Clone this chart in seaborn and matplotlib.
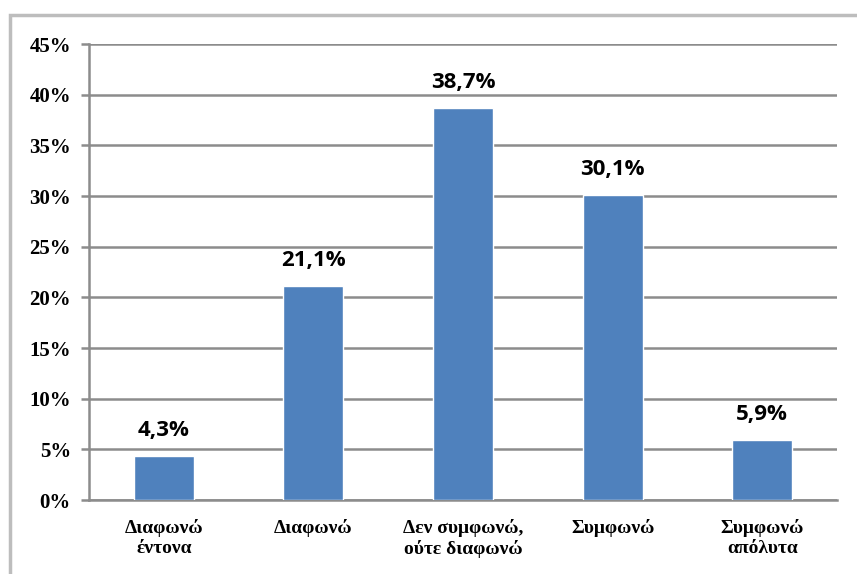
import numpy as np
import pandas as pd
import seaborn as sns
import matplotlib.pyplot as plt
from matplotlib.patches import Rectangle
from matplotlib.ticker import FuncFormatter

categories = ["Διαφωνώ\nέντονα", "Διαφωνώ", "Δεν συμφωνώ,\nούτε διαφωνώ", "Συμφωνώ", "Συμφωνώ\nαπόλυτα"]
values = [4.3, 21.1, 38.7, 30.1, 5.9]
yticks = [0, 5, 10, 15, 20, 25, 30, 35, 40, 45]

df = pd.DataFrame({"cat": categories, "val": values})

sns.set_theme(style="white")
plt.rcParams['font.family'] = ['Liberation Serif', 'DejaVu Serif']

fig = plt.figure(figsize=(8.57, 5.74), dpi=100)
ax = fig.add_axes([89 / 857, 74 / 574, 748 / 857, 456 / 574])

# outer chart frame (cut off at right and bottom like the reference)
fig.patches.append(Rectangle((9.5 / 857, -0.05), 1.2, (574 - 14.5) / 574 + 0.05,
                             transform=fig.transFigure, fill=False,
                             edgecolor='#bdbdbd', lw=2.5, zorder=0))

sns.barplot(data=df, x="cat", y="val", color="#4F81BD", width=0.4,
            saturation=1, ax=ax, zorder=3)

ax.set_ylim(0, 45)
ax.set_yticks(yticks)
ax.yaxis.set_major_formatter(FuncFormatter(lambda v, p: f"{int(v)}%"))
ax.grid(axis='y', color='#8c8c8c', lw=1.8, zorder=0)
ax.set_axisbelow(True)

for s in ['top', 'right']:
    ax.spines[s].set_visible(False)
for s in ['left', 'bottom']:
    ax.spines[s].set_color('#8c8c8c')
    ax.spines[s].set_linewidth(1.8)

ax.tick_params(axis='y', left=True, length=6, width=1.8, color='#8c8c8c', pad=7,
               labelsize=15)
ax.tick_params(axis='x', bottom=False, pad=8, labelsize=14)
for lab in ax.get_yticklabels() + ax.get_xticklabels():
    lab.set_fontweight('bold')
    lab.set_color('black')
for lab in ax.get_xticklabels():
    lab.set_linespacing(1.2)

ax.set_xlabel("")
ax.set_ylabel("")

labels = [f"{v:.1f}%".replace(".", ",") for v in values]
ax.bar_label(ax.containers[0], labels=labels, padding=11, fontsize=16,
             fontweight='bold', family=['Open Sans', 'DejaVu Sans'], color='black')

fig.savefig("out.png", dpi=100)
